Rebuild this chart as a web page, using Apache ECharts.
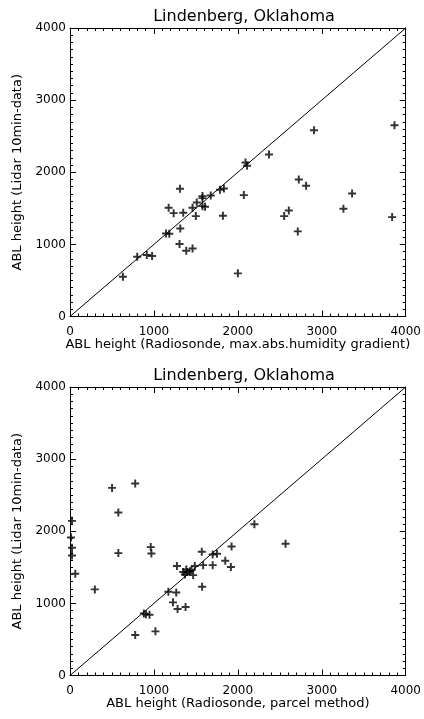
<!DOCTYPE html>
<html>
<head>
<meta charset="utf-8">
<script src="https://cdn.jsdelivr.net/npm/echarts@6/dist/echarts.min.js"></script>
<style>
html,body{margin:0;padding:0;background:#fff;}
#chart{width:424px;height:719px;}
</style>
</head>
<body>
<div id="chart"></div>
<script>
// ---- data ----
const titleText = 'Lindenberg, Oklahoma';
const xNameTop = 'ABL height (Radiosonde, max.abs.humidity gradient)';
const xNameBottom = 'ABL height (Radiosonde, parcel method)';
const yName = 'ABL height (Lidar 10min-data)';
const tickValues = [0, 1000, 2000, 3000, 4000];

// top panel: humidity gradient method (x) vs lidar (y)
const topX = [631, 801, 915, 978, 1144, 1183, 1310, 1175, 1235, 1314, 1305, 1385, 1460, 1349, 1460, 1499, 1511, 1578, 1609, 1578, 1578, 1677, 1787, 1834, 1822, 2000, 2907, 3866, 2371, 2091, 2110, 2726, 2813, 2071, 3361, 3258, 2607, 2552, 2714, 3838];
const topY = [551, 828, 852, 838, 1152, 1147, 1770, 1507, 1433, 1221, 1004, 912, 944, 1438, 1507, 1392, 1581, 1530, 1521, 1669, 1641, 1678, 1757, 1775, 1396, 598, 2583, 2652, 2246, 2136, 2089, 1900, 1812, 1683, 1706, 1494, 1470, 1392, 1180, 1378];

// bottom panel: parcel method (x) vs lidar (y)
const botX = [501, 777, 576, 24, 12, 24, 24, 576, 962, 970, 63, 296, 880, 905, 947, 777, 1018, 1172, 1266, 1227, 1282, 1377, 1574, 1274, 1349, 1385, 1396, 1428, 1448, 1369, 1467, 1487, 1570, 1586, 1700, 1751, 1700, 1850, 1925, 1917, 2197, 2568];
const botY = [2601, 2662, 2260, 2144, 1914, 1770, 1665, 1697, 1780, 1692, 1410, 1194, 861, 850, 842, 561, 612, 1161, 1152, 1014, 921, 949, 1230, 1517, 1434, 1471, 1434, 1447, 1461, 1401, 1392, 1517, 1715, 1530, 1678, 1687, 1530, 1590, 1789, 1503, 2098, 1826];

const diagonal = [[0, 0], [4000, 4000]];

// ---- chart ----
const FONT = 'DejaVu Sans';
const plus = 'path://M-1.7,-7H1.7V-1.7H7V1.7H1.7V7H-1.7V1.7H-7V-1.7H-1.7Z';
const axMin = tickValues[0], axMax = tickValues[tickValues.length - 1];
const axInterval = tickValues[1] - tickValues[0];
const fmt = v => String(v);

function zip(a, b) { return a.map((v, i) => [v, b[i]]); }

function baseAxis(grid) {
  return {
    type: 'value', gridIndex: grid, min: axMin, max: axMax, interval: axInterval,
    splitLine: { show: false },
    axisLine: { show: true, onZero: false, lineStyle: { color: '#000', width: 1 } },
    axisTick: { show: true, inside: true, length: 6, lineStyle: { color: '#000', width: 1 } },
    minorTick: { show: true, splitNumber: 10, length: 3, lineStyle: { color: '#000', width: 1 } }
  };
}
function xAxes(grid, name) {
  return [
    Object.assign(baseAxis(grid), {
      position: 'bottom',
      axisLabel: { show: true, margin: 9, color: '#000', fontFamily: FONT, fontSize: 12, formatter: fmt },
      name: name, nameLocation: 'middle', nameGap: 21,
      nameTextStyle: { color: '#000', fontFamily: FONT, fontSize: 13 }
    }),
    Object.assign(baseAxis(grid), { position: 'top', axisLabel: { show: false } })
  ];
}
function yAxes(grid) {
  return [
    Object.assign(baseAxis(grid), {
      position: 'left',
      axisLabel: { show: true, margin: 4, color: '#000', fontFamily: FONT, fontSize: 12, formatter: fmt },
      name: yName, nameLocation: 'middle', nameGap: 34, nameRotate: 90,
      nameTextStyle: { color: '#000', fontFamily: FONT, fontSize: 13 }
    }),
    Object.assign(baseAxis(grid), { position: 'right', axisLabel: { show: false } })
  ];
}

const chart = echarts.init(document.getElementById('chart'), null, { renderer: 'canvas' });
chart.setOption({
  animation: false,
  backgroundColor: '#fff',
  title: [
    { text: titleText, left: 239, top: 4, textAlign: 'center',
      textStyle: { fontFamily: FONT, fontSize: 16, fontWeight: 'normal', color: '#000' } },
    { text: titleText, left: 239, top: 363, textAlign: 'center',
      textStyle: { fontFamily: FONT, fontSize: 16, fontWeight: 'normal', color: '#000' } }
  ],
  grid: [
    { left: 70, top: 28, width: 338, height: 288.5, containLabel: false },
    { left: 70, top: 387, width: 338, height: 288.5, containLabel: false }
  ],
  xAxis: xAxes(0, xNameTop).concat(xAxes(1, xNameBottom)),
  yAxis: yAxes(0).concat(yAxes(1)),
  series: [
    { type: 'line', xAxisIndex: 0, yAxisIndex: 0, data: diagonal, symbol: 'none',
      lineStyle: { color: '#000', width: 1 }, silent: true },
    { type: 'scatter', xAxisIndex: 0, yAxisIndex: 0, data: zip(topX, topY),
      symbol: plus, symbolSize: 8, itemStyle: { color: '#000' } },
    { type: 'line', xAxisIndex: 2, yAxisIndex: 2, data: diagonal, symbol: 'none',
      lineStyle: { color: '#000', width: 1 }, silent: true },
    { type: 'scatter', xAxisIndex: 2, yAxisIndex: 2, data: zip(botX, botY),
      symbol: plus, symbolSize: 8, itemStyle: { color: '#000' } }
  ]
});
</script>
</body>
</html>
